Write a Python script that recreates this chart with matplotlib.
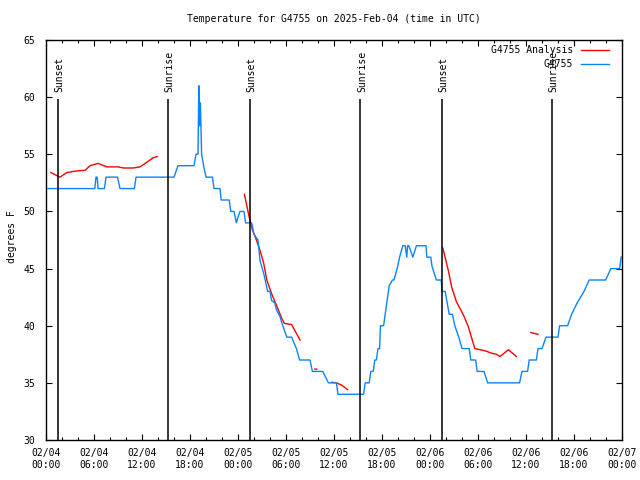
import numpy as np
import matplotlib
matplotlib.use("Agg")
import matplotlib.pyplot as plt

# hours since 2025-02-04 00:00 UTC
obs_hours = [0.25, 6.1, 6.25, 6.4, 6.5, 7.3, 7.5, 8.95, 9.25, 11.05, 11.25, 16.0, 16.5, 18.5, 18.75, 19.0,
             19.1, 19.2, 19.3, 19.45, 19.7, 20.0, 20.8, 21.0, 21.75, 21.9, 22.9, 23.1, 23.5, 23.8, 24.0,
             24.25, 24.75, 24.95, 25.7, 26.0, 26.5, 26.75, 27.2, 27.4, 27.7, 28.0, 28.2, 28.6, 28.8, 29.25,
             29.5, 30.1, 30.7, 31.0, 31.3, 31.7, 33.0, 33.3, 34.6, 35.3, 36.3, 36.5, 39.7, 39.9, 40.4, 40.6,
             40.9, 41.1, 41.3, 41.5, 41.7, 41.8, 42.2, 42.4, 42.6, 42.9, 43.3, 43.5, 43.9, 44.2, 44.6, 44.9,
             45.1, 45.2, 45.35, 45.85, 46.3, 47.5, 47.6, 48.1, 48.25, 48.8, 49.4, 49.5, 49.9, 50.3, 50.4,
             50.8, 51.1, 51.6, 52.0, 52.9, 53.1, 53.7, 53.9, 54.75, 55.2, 59.2, 59.5, 60.2, 60.4, 61.3, 61.5,
             62.0, 62.5, 64.0, 64.2, 65.2, 65.7, 66.4, 67.25, 67.9, 69.96, 70.6, 71.7, 71.9]
obs_temp = [52, 52, 53, 53, 52, 52, 53, 53, 52, 52, 53, 53, 54, 54, 55, 55,
            61, 57.5, 59.5, 55, 54, 53, 53, 52, 52, 51, 51, 50, 50, 49, 49.5,
            50, 50, 49, 49, 48, 47.5, 45.7, 44.6, 44, 43, 43, 42.2, 42, 41.4, 40.8,
            40.2, 39, 39, 38.5, 38, 37, 37, 36, 36, 35, 35, 34, 34, 35, 35, 36,
            36, 37, 37, 38, 38, 40, 40, 41, 42, 43.5, 44, 44, 45, 46, 47, 47,
            46, 47, 47, 46, 47, 47, 46, 46, 45.2, 44, 44, 43, 43, 41.4, 41,
            41, 40, 39, 38, 38, 37, 37, 36, 36, 35, 35, 36, 36, 37, 37, 38,
            38, 39, 39, 40, 40, 41, 42, 43, 44, 44, 45, 45, 46]

ana_hours = [0.6, 1.75, 2.6, 3.4, 4.25, 4.9, 5.5, 6.5, 7.6, 9.0, 9.7, 10.9, 11.75, 12.6, 13.4, 13.9, np.nan,
             24.8, 25.4, 25.8, 26.3, 26.75, 27.2, 27.6, 28.2, 28.8, 29.5, 29.8, 30.7, 31.75, np.nan,
             33.6, 33.85, np.nan,
             35.7, 36.3, 36.96, 37.7, np.nan,
             49.6, 50.3, 50.7, 51.3, 52.2, 52.8, 53.6, 54.25, 54.9, 55.7, 56.3, 56.75, 57.8, 58.3, 58.8, np.nan,
             60.6, 61.5]
ana_temp = [53.4, 53.0, 53.4, 53.5, 53.57, 53.6, 54.0, 54.2, 53.9, 53.9, 53.8, 53.8, 53.9, 54.3, 54.7, 54.8, np.nan,
            51.5, 49.5, 48.4, 47.5, 46.6, 45.5, 44.0, 42.8, 41.8, 40.6, 40.2, 40.1, 38.75, np.nan,
            36.2, 36.2, np.nan,
            35.05, 35.0, 34.8, 34.4, np.nan,
            46.8, 44.8, 43.4, 42.1, 40.9, 39.9, 38.0, 37.9, 37.8, 37.6, 37.5, 37.3, 37.9, 37.6, 37.3, np.nan,
            39.4, 39.25]

sun_hours = [1.54, 15.25, 25.5, 39.3, 49.5, 63.2]
sun_labels = ["Sunset", "Sunrise", "Sunset", "Sunrise", "Sunset", "Sunrise"]

tick_hours = [0, 6, 12, 18, 24, 30, 36, 42, 48, 54, 60, 66, 72]
tick_labels = ["02/04\n00:00", "02/04\n06:00", "02/04\n12:00", "02/04\n18:00",
               "02/05\n00:00", "02/05\n06:00", "02/05\n12:00", "02/05\n18:00",
               "02/06\n00:00", "02/06\n06:00", "02/06\n12:00", "02/06\n18:00",
               "02/07\n00:00"]

plt.rcParams['font.family'] = ['DejaVu Sans Mono']
FS = 7

fig = plt.figure(figsize=(6.4, 4.8), dpi=100)
ax = fig.add_axes([46/640, 1-440/480, 576/640, 400/480])

ax.plot(ana_hours, ana_temp, color="#ff0000", lw=1.0, label="G4755 Analysis")
ax.plot(obs_hours, obs_temp, color="#0a84ff", lw=1.0, label="G4755")

ax.vlines(sun_hours, 30, 59.8, color="black", lw=1.1)
for h, lab in zip(sun_hours, sun_labels):
    ax.text(h + 0.19, 60.45, lab, rotation=90, ha="center", va="bottom", fontsize=FS)

ax.set_xlim(0, 72)
ax.set_ylim(30, 65)
ax.set_xticks(tick_hours)
ax.set_xticklabels(tick_labels, fontsize=FS)
ax.set_xticks(np.arange(0, 73, 2), minor=True)
ax.set_yticks(np.arange(30, 66, 5))
ax.set_yticklabels([str(v) for v in range(30, 66, 5)], fontsize=FS)
ax.tick_params(axis="both", which="major", direction="in", length=4, width=0.8,
               top=True, right=True)
ax.tick_params(axis="both", which="minor", direction="in", length=2, width=0.8,
               top=True, right=True)
ax.tick_params(axis="x", which="major", pad=6)
ax.tick_params(axis="y", which="major", pad=8)
for s in ax.spines.values():
    s.set_linewidth(1.0)

leg = ax.legend(loc="upper right", bbox_to_anchor=(0.984, 0.997), borderaxespad=0,
                frameon=False, markerfirst=False, fontsize=FS, handlelength=2.9,
                handletextpad=0.8, labelspacing=0.42)

fig.text(334/640, 1-19/480, "Temperature for G4755 on 2025-Feb-04 (time in UTC)",
         ha="center", va="center", fontsize=FS)
fig.text(12/640, 1-237/480, "degrees F", rotation=90, ha="center", va="center", fontsize=FS)

fig.savefig("out.png", dpi=100)
